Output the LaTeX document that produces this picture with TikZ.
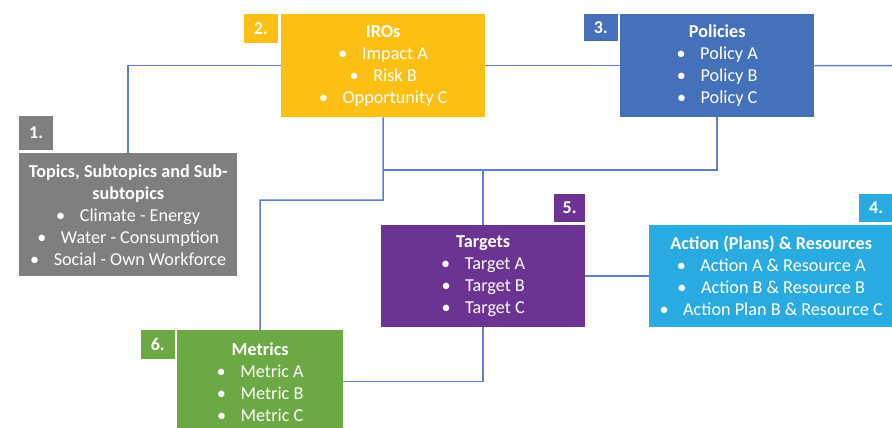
\documentclass[tikz,border=0pt]{standalone}
\usepackage{fontspec}
\setmainfont{Carlito}
\usepackage{tikz}
\usetikzlibrary{positioning}

\definecolor{topicgray}{HTML}{7F7F7F}
\definecolor{iroyellow}{HTML}{FBC013}
\definecolor{polblue}{HTML}{4570BA}
\definecolor{tgtpurple}{HTML}{6C3492}
\definecolor{actcyan}{HTML}{29ABE2}
\definecolor{metgreen}{HTML}{6CA843}
\definecolor{linkblue}{HTML}{5D80CC}

\newcommand{\bulline}[1]{\textbullet\hspace{0.8em}#1}

\begin{document}
\begin{tikzpicture}[
    x=1pt, y=-1pt,
    box/.style={anchor=north west, align=center, text=white, inner sep=0pt,
      font=\fontsize{18.2}{22}\selectfont},
    numbox/.style={fill=#1, text=white, inner sep=0pt, minimum width=34pt,
      minimum height=28pt, font=\bfseries\fontsize{18}{20}\selectfont},
    link/.style={draw=linkblue, line width=1.5pt}
  ]
    \clip (0,0) rectangle (892,428);

    % main boxes
    \node[box, fill=topicgray, minimum width=218pt, minimum height=123pt] (topics) at (19,153)
      {\textbf{Topics, Subtopics and Sub-}\\\textbf{subtopics}\\\bulline{Climate - Energy}\\\bulline{Water - Consumption}\\\bulline{Social - Own Workforce}};
    \node[box, fill=iroyellow, minimum width=204pt, minimum height=103pt] (iro) at (281,14)
      {\textbf{IROs}\\\bulline{Impact A}\\\bulline{Risk B}\\\bulline{Opportunity C}};
    \node[box, fill=polblue, minimum width=194pt, minimum height=103pt] (pol) at (620,14)
      {\textbf{Policies}\\\bulline{Policy A}\\\bulline{Policy B}\\\bulline{Policy C}};
    \node[box, fill=tgtpurple, minimum width=204pt, minimum height=102pt] (tgt) at (381,225)
      {\textbf{Targets}\\\bulline{Target A}\\\bulline{Target B}\\\bulline{Target C}};
    \node[box, fill=actcyan, minimum width=244pt, minimum height=102pt] (act) at (649,225)
      {\textbf{Action (Plans) \& Resources}\\\bulline{Action A \& Resource A}\\\bulline{Action B \& Resource B}\\\bulline{Action Plan B \& Resource C}};
    \node[box, fill=metgreen, minimum width=166pt, minimum height=103pt] (met) at (177,330)
      {\textbf{Metrics}\\\bulline{Metric A}\\\bulline{Metric B}\\\bulline{Metric C}};

    % step numbers
    \node[numbox=topicgray, minimum height=34pt, above right=3pt and 0pt of topics.north west] (n1) {1.};
    \node[numbox=iroyellow, minimum height=29pt, below left=0pt and 3pt of iro.north west] (n2) {2.};
    \node[numbox=polblue, minimum height=27pt, below left=0pt and 2pt of pol.north west] (n3) {3.};
    \node[numbox=actcyan, above left=3pt and 0pt of act.north east] (n4) {4.};
    \node[numbox=tgtpurple, minimum width=31pt, above left=3pt and 0pt of tgt.north east] (n5) {5.};
    \node[numbox=metgreen, minimum height=29pt, below left=0pt and 2pt of met.north west] (n6) {6.};

    % junctions
    \coordinate (split) at (383,170);
    \coordinate (bend) at (383,200);
    \coordinate (offright) at (892,65.5);

    % links
    \draw[link] (topics.north) |- (iro.west);
    \draw[link] (iro.east) -- (pol.west);
    \draw[link] (pol.east) -- (offright);
    \draw[link] (iro.south) -- (bend) -| (met.north);
    \draw[link] (pol.south) |- (split);
    \draw[link] (tgt.north) -- (tgt.north |- split);
    \draw[link] (tgt.south) |- (met.east);
    \draw[link] (tgt.east) -- (act.west);
\end{tikzpicture}
\end{document}
